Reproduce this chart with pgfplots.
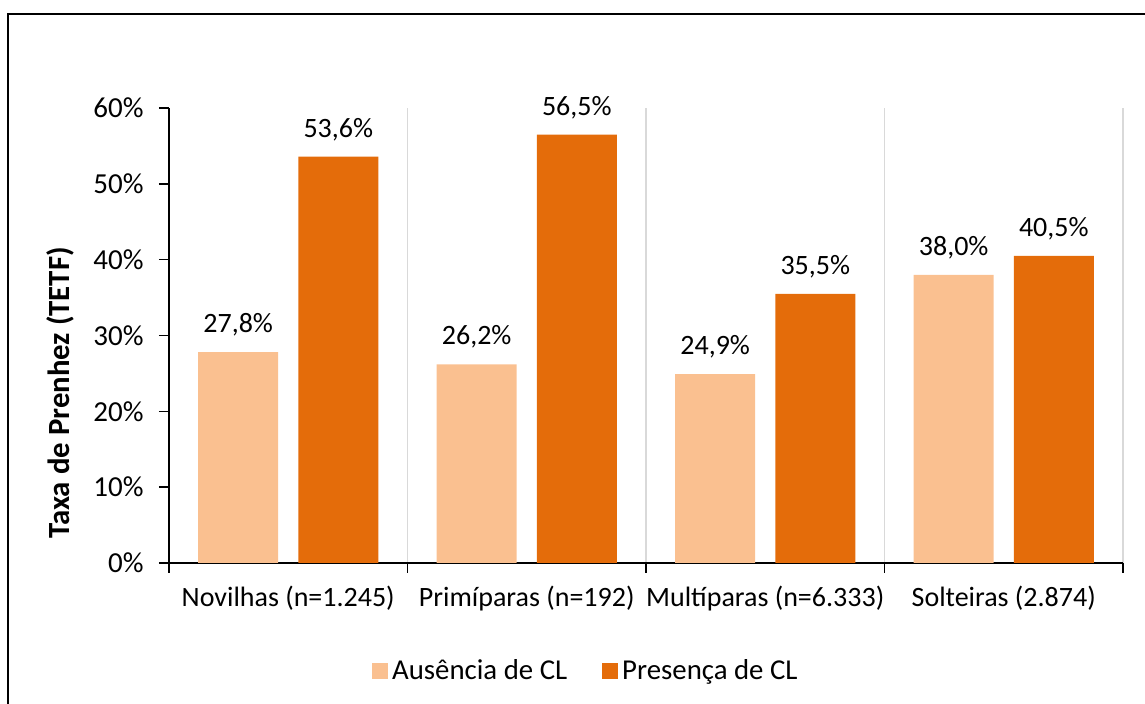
\documentclass[border=0pt]{standalone}
\usepackage{fontspec}
\setmainfont{Carlito}
\usepackage{pgfplots}
\pgfplotsset{compat=1.18}
\definecolor{lightor}{HTML}{FAC090}
\definecolor{darkor}{HTML}{E46C0A}
\definecolor{gridgray}{HTML}{D9D9D9}
\newcommand{\chartfont}{\fontsize{14}{17}\selectfont}
\begin{document}
\begin{tikzpicture}
\useasboundingbox (-84.5pt,-70.5pt) rectangle (488pt,281.5pt);
\clip (-84.5pt,-70.5pt) rectangle (488pt,281.5pt);
\draw[line width=0.75pt] (-80.5pt,-120pt) -- (-80.5pt,274.5pt) -- (560pt,274.5pt);
\begin{axis}[
  at={(0pt,0pt)}, anchor=south west,
  scale only axis, width=477pt, height=227.5pt,
  xmin=-0.5, xmax=3.5, ymin=0, ymax=60,
  axis x line=bottom, axis y line=left,
  axis line style={black, line width=0.75pt, -},
  xtick={-0.5,0.5,1.5,2.5,3.5}, xticklabels={},
  xmajorgrids, grid style={gridgray, line width=0.75pt},
  extra x ticks={0,1,2,3},
  extra x tick labels={Novilhas (n=1.245), Primíparas (n=192), Multíparas (n=6.333), Solteiras (2.874)},
  extra x tick style={major tick length=0pt, grid=none,
     xticklabel style={anchor=north, inner sep=0pt, yshift=-11.5pt}},
  ytick={0,10,...,60},
  yticklabels={0\%,10\%,20\%,30\%,40\%,50\%,60\%},
  yticklabel style={anchor=east, inner sep=0pt, xshift=-7.5pt, font=\fontsize{14.5}{17}\selectfont},
  tick align=outside, major tick length=5pt,
  tick style={black, line width=0.75pt},
  tick label style={font=\chartfont},
  ylabel={Taxa de Prenhez (TETF)},
  ylabel style={at={(axis description cs:-0.11426,0.374)}, anchor=center, font=\fontsize{15.4}{18}\selectfont\bfseries},
  legend style={at={(axis description cs:0.438,-0.2374)}, anchor=center, draw=none, font=\fontsize{14.4}{17}\selectfont,
     /tikz/every even column/.append style={column sep=15.5pt},
     nodes={inner sep=2pt}},
  legend columns=2,
  /pgf/number format/.cd, fixed, fixed zerofill, precision=1, use comma, assume math mode=true,
]
\addplot[ybar, fill=lightor, draw=none, bar width=0.335, bar shift=-0.21,
  legend image code/.code={\fill[lightor] (0pt,-4pt) rectangle (8pt,4pt);},
  nodes near coords={\pgfmathprintnumber{\pgfplotspointmeta}\%},
  every node near coord/.append style={anchor=south, inner sep=0pt, text depth=0pt, yshift=9.5pt, xshift=-25.04pt, font=\chartfont, black}]
  coordinates {(0,27.8) (1,26.2) (2,24.9) (3,38.0)};
\addlegendentry{Ausência de CL}
\addplot[ybar, fill=darkor, draw=none, bar width=0.335, bar shift=0.21,
  legend image code/.code={\fill[darkor] (0pt,-4pt) rectangle (8pt,4pt);},
  nodes near coords={\pgfmathprintnumber{\pgfplotspointmeta}\%},
  every node near coord/.append style={anchor=south, inner sep=0pt, text depth=0pt, yshift=9.5pt, xshift=25.04pt, font=\chartfont, black}]
  coordinates {(0,53.6) (1,56.5) (2,35.5) (3,40.5)};
\addlegendentry{Presença de CL}
\end{axis}
\end{tikzpicture}
\end{document}
